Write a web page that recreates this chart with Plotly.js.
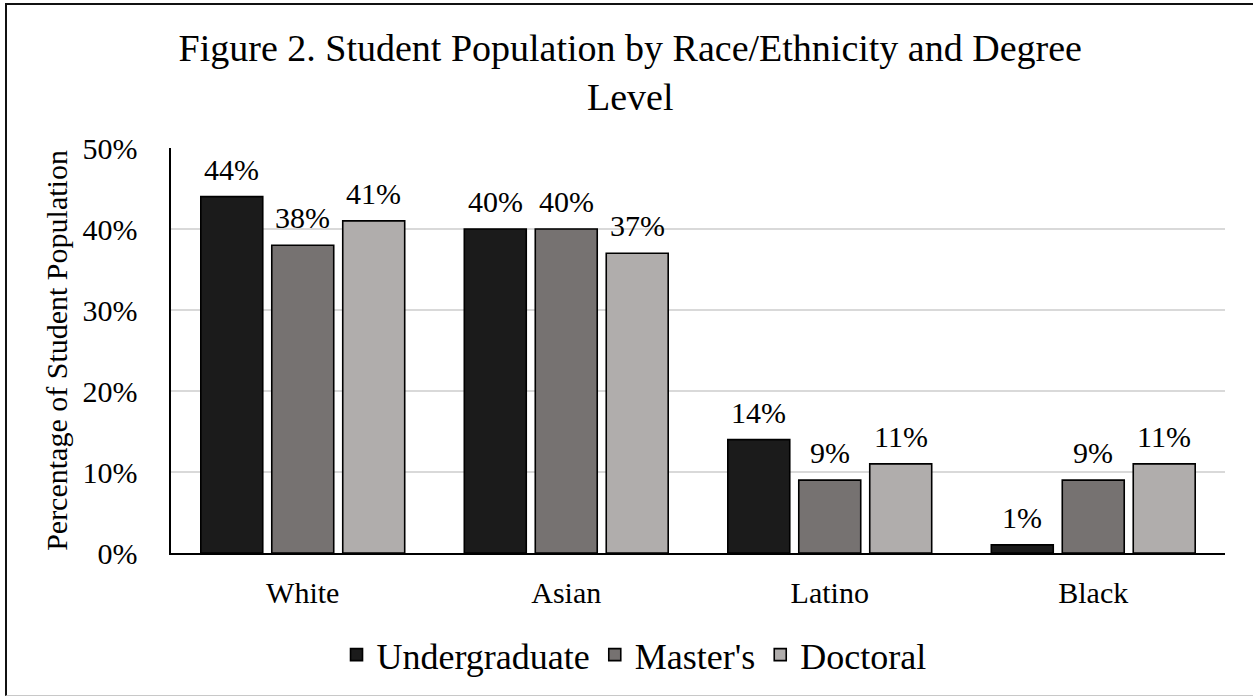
<!DOCTYPE html>
<html>
<head>
<meta charset="utf-8">
<script src="https://cdn.plot.ly/plotly-3.0.1.min.js"></script>
<style>
  html, body { margin: 0; padding: 0; background: #fff; }
  #wrap { position: relative; width: 1253px; height: 698px; overflow: hidden; }
  #chart { position: absolute; left: 0; top: 0; width: 1253px; height: 698px; }
  #frame { position: absolute; left: 5px; top: 3px; width: 1260px; height: 690px;
           border-left: 2px solid #111; border-top: 2px solid #111; border-bottom: 1.5px solid #c8c8c8;
           pointer-events: none; }
</style>
</head>
<body>
<div id="wrap">
  <div id="chart"></div>
  <div id="frame"></div>
</div>
<script>
const categories = ["White", "Asian", "Latino", "Black"];
const seriesNames = ["Undergraduate", "Master's", "Doctoral"];
const undergraduate = [0.44, 0.40, 0.14, 0.01];
const masters = [0.38, 0.40, 0.09, 0.09];
const doctoral = [0.41, 0.37, 0.11, 0.11];
const yTickVals = [0, 0.1, 0.2, 0.3, 0.4, 0.5];
const yTickText = ["0%", "10%", "20%", "30%", "40%", "50%"];

const colors = ["#1b1b1b", "#767271", "#b0adac"];
const values = [undergraduate, masters, doctoral];
const FONT = "Liberation Serif";
const bargap = 0.192;
const bargroupgap = 0.127;

const traces = values.map((v, j) => ({
  type: "bar",
  name: seriesNames[j],
  x: categories,
  y: v,
  marker: { color: colors[j], line: { color: "#000", width: 1.6 } },
  hoverinfo: "skip"
}));

// data labels placed through the axes (category index + slot offset)
const slot = (1 - bargap) / values.length;
const annotations = [];
values.forEach((v, j) => {
  v.forEach((val, i) => {
    annotations.push({
      xref: "x", yref: "y",
      x: i + (j - (values.length - 1) / 2) * slot,
      y: val,
      text: Math.round(val * 100) + "%",
      showarrow: false,
      xanchor: "center", yanchor: "bottom",
      yshift: 9,
      font: { family: FONT, size: 30, color: "#000" }
    });
  });
});

const layout = {
  width: 1253, height: 698,
  paper_bgcolor: "#fff", plot_bgcolor: "#fff",
  margin: { l: 171, r: 28, t: 148, b: 145 },
  barmode: "group",
  bargap: bargap,
  bargroupgap: bargroupgap,
  showlegend: true,
  title: {
    text: "Figure 2. Student Population by Race/Ethnicity and Degree<br>Level",
    font: { family: FONT, size: 38, color: "#000" },
    x: 0.503, xref: "container", xanchor: "center",
    y: 0.913, yref: "container", yanchor: "top"
  },
  xaxis: {
    type: "category",
    showline: true, linecolor: "#000", linewidth: 1.6,
    ticks: "", showgrid: false, zeroline: false,
    tickfont: { family: FONT, size: 30, color: "#000" },
    ticklabelstandoff: 12,
    automargin: false
  },
  yaxis: {
    range: [0, 0.5],
    tickvals: yTickVals, ticktext: yTickText,
    showline: true, linecolor: "#000", linewidth: 1.6,
    showgrid: true, gridcolor: "#d9d9d9", gridwidth: 1.5,
    zeroline: false, ticks: "",
    tickfont: { family: FONT, size: 30, color: "#000" },
    ticklabelstandoff: 26,
    automargin: false,
    title: {
      text: "Percentage of Student Population",
      font: { family: FONT, size: 30, color: "#000" },
      standoff: 6
    }
  },
  legend: {
    orientation: "h",
    xref: "container", yref: "container",
    x: 0.506, xanchor: "center",
    y: 0.062, yanchor: "middle",
    font: { family: FONT, size: 36, color: "#000" },
    itemclick: false, itemdoubleclick: false
  },
  annotations: annotations
};

Plotly.newPlot("chart", traces, layout, { displayModeBar: false, staticPlot: true });
</script>
</body>
</html>
